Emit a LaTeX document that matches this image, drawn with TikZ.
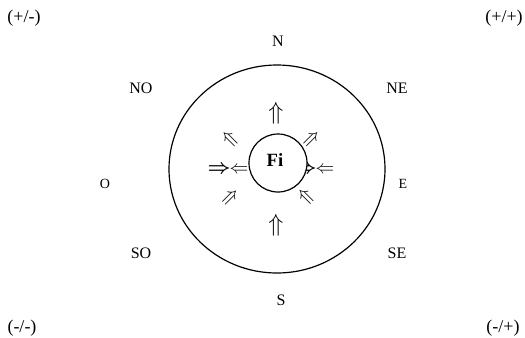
\documentclass[tikz,border=0pt]{standalone}
\usepackage{fontspec}
\setmainfont{Liberation Serif}
\usetikzlibrary{positioning}

\begin{document}
\begin{tikzpicture}[
  x=0.75pt, y=-0.75pt,
  dir/.style={font=\fontsize{12}{12}\selectfont, inner sep=0pt},
  sub/.style={font=\fontsize{10.5}{12}\selectfont, inner sep=0pt},
  quad/.style={font=\fontsize{13.5}{14}\selectfont, inner sep=0pt},
  uarr/.style={inner sep=0pt, scale=1.85},
  larr/.style={inner sep=0pt, scale=1.4},
  darr/.style={inner sep=0pt, scale=1.5},
  barr/.style={inner sep=0pt, scale=1.5, font=\boldmath}]
  \useasboundingbox (0,0) rectangle (525,337);
  % quadrants
  \node[quad] (pm) at (24,18) {(+/-)};
  \node[quad] (pp) at (504,18) {(+/+)};
  \node[quad] (mm) at (22,328) {(-/-)};
  \node[quad] (mp) at (503,328) {(-/+)};
  % directions
  \node[dir] (n) at (278,41) {N};
  \node[dir] (s) at (281,300) {S};
  \node[dir] (no) at (141,88) {NO};
  \node[dir] (ne) at (397,88) {NE};
  \node[dir] (so) at (141,253) {SO};
  \node[dir] (se) at (397,253) {SE};
  \node[sub] (o) at (105,184) {O};
  \node[sub] (e) at (403,184) {E};
  % outer circle
  \draw[line width=0.9pt] (277,169) ellipse [x radius=108, y radius=104];
  % arrows
  \node[uarr] (au) at (276,113) {$\Uparrow$};
  \node[uarr] (ad) at (276,225) {$\Uparrow$};
  \node[darr, rotate=-45] (anw) at (229,140) {$\Leftarrow$};
  \node[darr, rotate=45] (ane) at (312,140) {$\Rightarrow$};
  \node[darr, rotate=-45] (asw) at (230,197) {$\Uparrow$};
  \node[darr, rotate=45] (ase) at (306,197) {$\Uparrow$};
  \node[barr] (bl) at (219,170) {$\Rightarrow$};
  \node[larr] (al) at (239,170) {$\Leftarrow$};
  \node[barr] (br) at (305,170) {$\Rightarrow$};
  \node[larr] (ar) at (325,170) {$\Leftarrow$};
  % inner circle
  \node[circle, draw, line width=0.9pt, fill=white, minimum size=58*0.75pt,
        inner sep=0pt] (fi) at (278,163) {};
  \node[font=\fontsize{14}{14}\selectfont\bfseries, inner sep=0pt] (fil) at (275,160) {Fi};
\end{tikzpicture}
\end{document}
